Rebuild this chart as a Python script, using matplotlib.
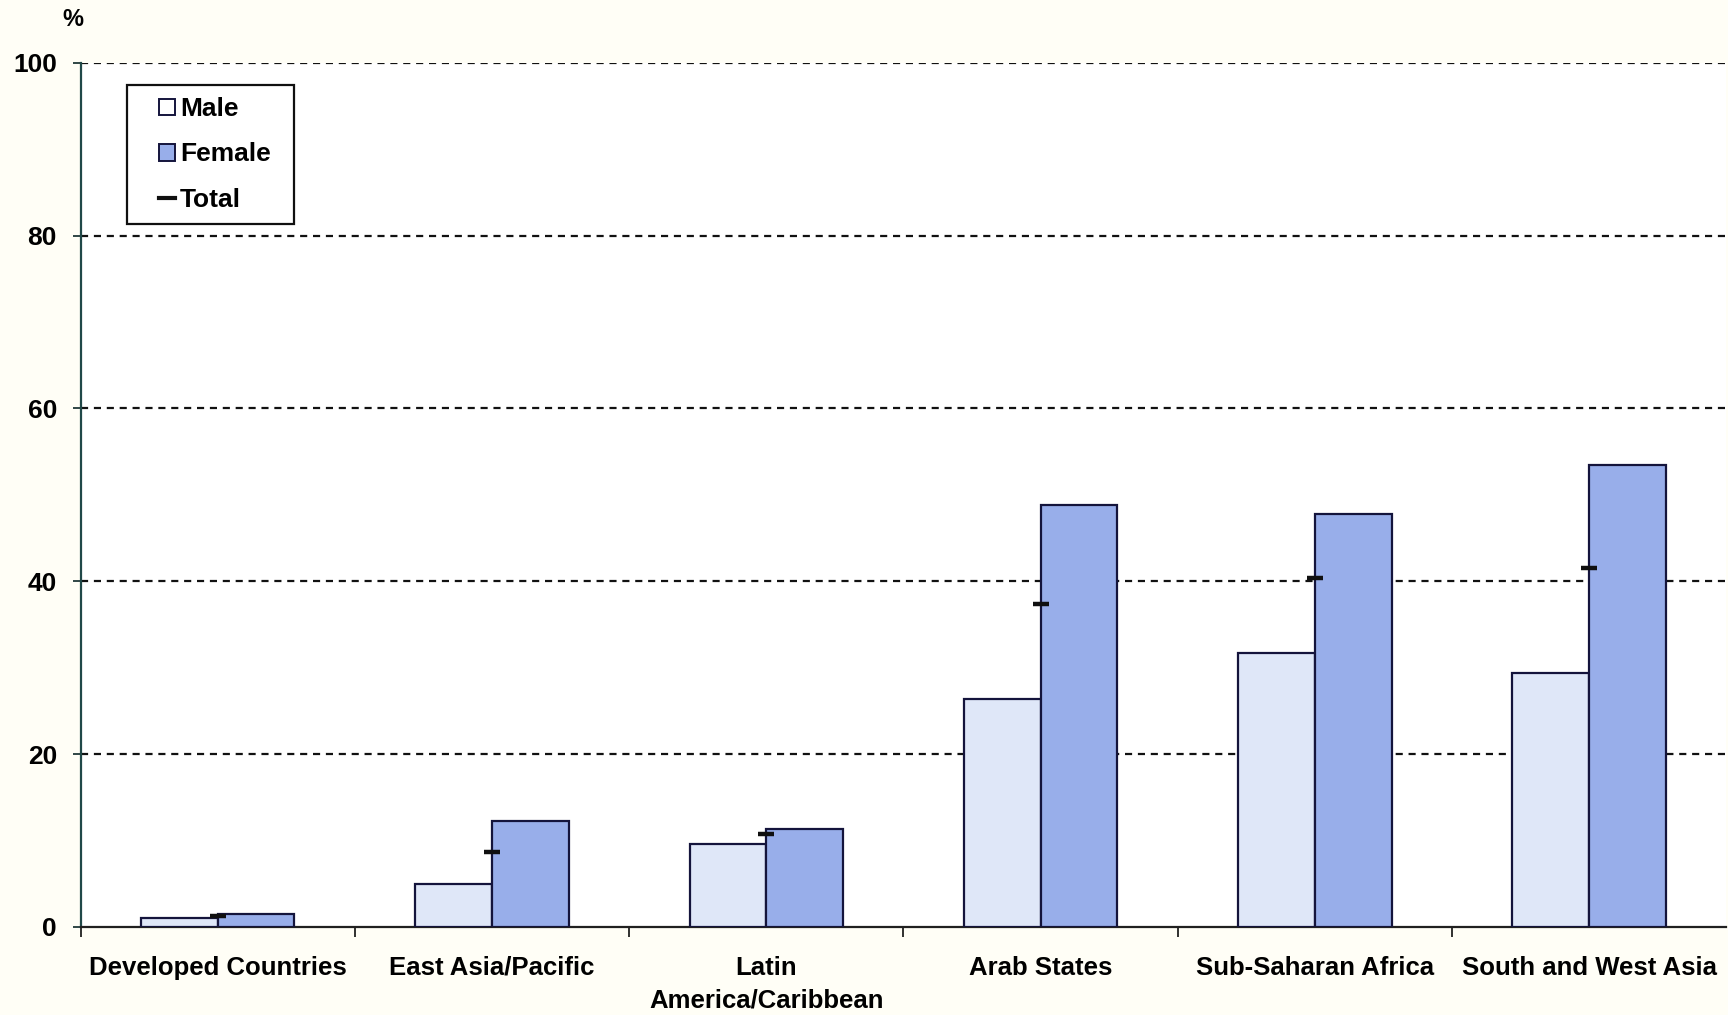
import matplotlib
matplotlib.use("Agg")
import matplotlib.pyplot as plt
from matplotlib.patches import Patch, Rectangle
from matplotlib.lines import Line2D
import numpy as np

# Data
regions = ["Developed Countries", "East Asia/Pacific", "Latin\nAmerica/Caribbean",
           "Arab States", "Sub-Saharan Africa", "South and West Asia"]
male = [1.0, 5.0, 9.6, 26.4, 31.7, 29.4]
female = [1.5, 12.2, 11.3, 48.8, 47.8, 53.5]
total = [1.3, 8.6, 10.7, 37.4, 40.4, 41.5]
yticks = [0, 20, 40, 60, 80, 100]

plt.rcParams["font.family"] = ["Liberation Sans", "DejaVu Sans"]
plt.rcParams["font.weight"] = "bold"

fig = plt.figure(figsize=(17.28, 10.15), dpi=100, facecolor="#fffef6")
ax = fig.add_axes([0.0466, 0.0869, 0.9525, 0.8512])
ax.set_facecolor("white")

x = np.arange(len(regions))
w = 0.28
male_color = "#dfe7f8"
female_color = "#98aeea"
edge = "#14143c"

ax.bar(x - w / 2, male, width=w, color=male_color, edgecolor=edge, linewidth=1.6, zorder=3)
ax.bar(x + w / 2, female, width=w, color=female_color, edgecolor=edge, linewidth=1.6, zorder=3)
ax.plot(x, total, linestyle="none", marker="_", markersize=12, markeredgewidth=3.2,
        color="#101010", zorder=5)

ax.set_xlim(-0.5, len(regions) - 0.5)
ax.set_ylim(0, 100)

# Dashed gridlines
for yv in yticks[1:]:
    ax.axhline(yv, color="#111111", linestyle=(0, (3.2, 2.6)), linewidth=1.6, zorder=1)

ax.set_yticks(yticks)
ax.set_yticklabels([str(v) for v in yticks], fontsize=19, fontweight="bold")
ax.tick_params(axis="y", direction="out", length=6, width=1.3, color="#203838", pad=11)

ax.set_xticks(x)
ax.set_xticklabels(regions, fontsize=18.5, fontweight="bold", va="top", linespacing=1.45)
ax.tick_params(axis="x", which="major", length=0, pad=21)
ax.set_xticks(np.arange(len(regions)) - 0.5, minor=True)
ax.tick_params(axis="x", which="minor", direction="out", length=7, width=1.3, color="#202020")

for side in ["top", "right"]:
    ax.spines[side].set_visible(False)
ax.spines["left"].set_color("#204848")
ax.spines["left"].set_linewidth(1.6)
ax.spines["bottom"].set_color("#202020")
ax.spines["bottom"].set_linewidth(1.6)

fig.text(0.042, 0.981, "%", fontsize=17, fontweight="bold", ha="center", va="center")

# Legend entries, with a separately drawn frame around them
handles = [
    Patch(facecolor="white", edgecolor=edge, linewidth=1.4, label="Male"),
    Patch(facecolor=female_color, edgecolor=edge, linewidth=1.4, label="Female"),
    Line2D([0], [0], color="#101010", linewidth=3, label="Total"),
]
ax.add_patch(Rectangle((0.0281, 0.8138), 0.1018, 0.1606, transform=ax.transAxes,
                       facecolor="white", edgecolor="#101010", linewidth=1.6, zorder=6))
leg = ax.legend(handles=handles, loc="upper left", bbox_to_anchor=(0.0475, 0.960),
                fontsize=19, frameon=False, handlelength=0.6,
                handleheight=0.6, handletextpad=0.2, labelspacing=0.8,
                borderpad=0, borderaxespad=0)
leg.set_zorder(7)
for t in leg.get_texts():
    t.set_fontweight("bold")

fig.savefig("out.png", dpi=100, facecolor=fig.get_facecolor())
